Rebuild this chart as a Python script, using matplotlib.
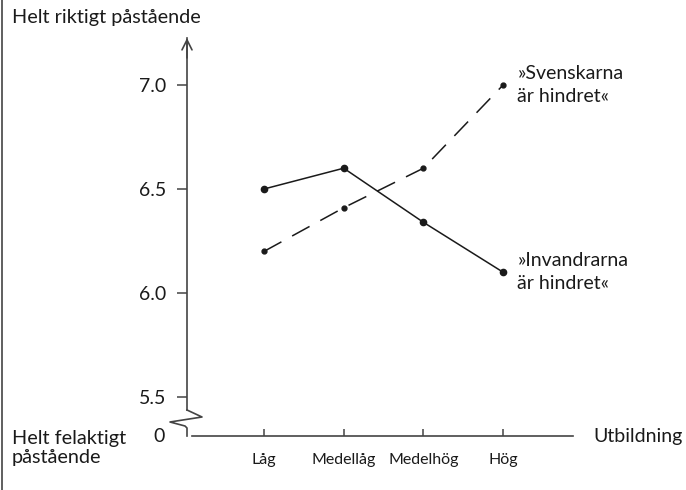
import matplotlib
matplotlib.use("Agg")
import matplotlib.pyplot as plt
from matplotlib.lines import Line2D

# data
levels = ["Låg", "Medellåg", "Medelhög", "Hög"]
invandrarna = [6.50, 6.60, 6.34, 6.10]
svenskarna = [6.20, 6.41, 6.60, 7.00]
yticks = [5.5, 6.0, 6.5, 7.0]
ylabels = ["5.5", "6.0", "6.5", "7.0"]

plt.rcParams['font.family'] = ['Lato', 'DejaVu Sans']
ink = "#1a1a1a"
axc = "#444444"

fig = plt.figure(figsize=(6.86, 4.9), dpi=100)
# axes box in pixels: x 187..573, y 38..436
ax = fig.add_axes([187/686, 54/490, 386/686, 398/490])
ax.set_xlim(-0.966, 3.877)
ax.set_ylim(5.3125, 7.226)
ax.patch.set_alpha(0)

xs = list(range(len(levels)))
ax.plot(xs, invandrarna, color=ink, lw=1.1, marker="o", ms=4.5)
ax.plot(xs, svenskarna, color=ink, lw=1.1, ls=(0, (13, 8)), marker="o", ms=3.5)

ax.text(3.18, invandrarna[-1], "»Invandrarna\när hindret«", va="center", ha="left",
        fontsize=14, color=ink, linespacing=1.4)
ax.text(3.18, svenskarna[-1], "»Svenskarna\när hindret«", va="center", ha="left",
        fontsize=14, color=ink, linespacing=1.4)

for s in ["top", "right"]:
    ax.spines[s].set_visible(False)
ax.spines["left"].set_bounds(5.4375, 7.226)
ax.spines["bottom"].set_bounds(-0.903, 3.877)
ax.spines["left"].set_color(axc)
ax.spines["bottom"].set_color(axc)
ax.spines["left"].set_linewidth(1.2)
ax.spines["bottom"].set_linewidth(1.2)

ax.set_yticks(yticks)
ax.set_yticklabels(ylabels, fontsize=14, color=ink)
ax.tick_params(axis="y", direction="out", length=7, width=1.1, color=axc, pad=8)
ax.set_xticks(xs)
ax.set_xticklabels(levels, fontsize=11.5, color=ink)
ax.tick_params(axis="x", direction="in", length=5, width=1.1, color=axc, pad=12)

# arrow head on the y axis
ax.annotate("", xy=(0, 1.0), xycoords="axes fraction", xytext=(0, 0.95),
            arrowprops=dict(arrowstyle="->", lw=1.2, color=axc, mutation_scale=18,
                            shrinkA=0, shrinkB=0))

# axis break zigzag (axes fraction)
zx = [0, 15/386, -17/386, -2/386, 0, 0]
zy = [26/398, 19/398, 14/398, 10/398, 8/398, 0]
ax.plot(zx, zy, transform=ax.transAxes, color=axc, lw=1.2, clip_on=False)

ax.text(-22/386, 0, "0", transform=ax.transAxes, ha="right", va="center",
        fontsize=14, color=ink)
ax.text(1 + 20/386, 0, "Utbildning", transform=ax.transAxes, ha="left", va="center",
        fontsize=14, color=ink)

fig.text(12/686, 1 - 18/490, "Helt riktigt påstående", ha="left", va="center",
         fontsize=14.3, color=ink)
fig.text(12/686, 1 - 448/490, "Helt felaktigt\npåstående", ha="left", va="center",
         fontsize=14.3, color=ink, linespacing=1.1)

# left frame line
fig.add_artist(Line2D([1.5/686, 1.5/686], [0, 1], color=axc, lw=1.2))

fig.savefig("out.png", dpi=100)
